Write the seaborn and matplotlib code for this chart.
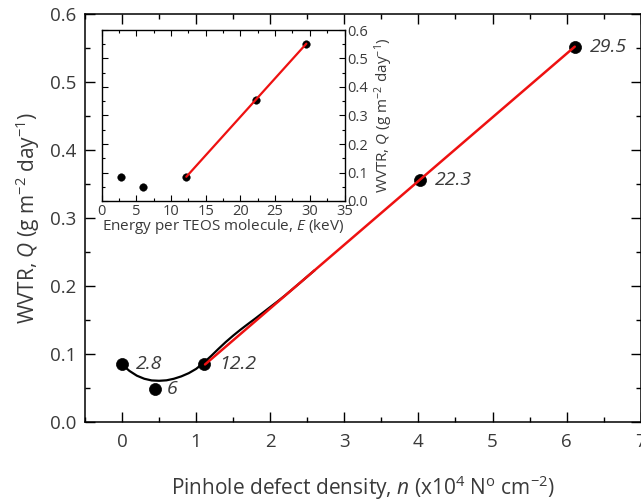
import matplotlib
matplotlib.use("Agg")
import matplotlib.pyplot as plt
import seaborn as sns
import pandas as pd
from matplotlib.ticker import MultipleLocator

sns.set_theme(style="white")
plt.rcParams['font.family'] = ['Open Sans', 'DejaVu Sans']
plt.rcParams['mathtext.fontset'] = 'custom'
plt.rcParams['mathtext.rm'] = 'Open Sans'
plt.rcParams['mathtext.it'] = 'Open Sans:italic'
plt.rcParams['mathtext.bf'] = 'Open Sans:bold'

# ---- data ----
defect_density = [0.0, 0.44, 1.11, 4.02, 6.11]          # n (x10^4 N/cm^2)
wvtr = [0.085, 0.049, 0.085, 0.356, 0.552]               # Q (g m^-2 day^-1)
energy = [2.8, 6.0, 12.2, 22.3, 29.5]                    # E (keV)
point_labels = ["2.8", "6", "12.2", "22.3", "29.5"]

# smooth guide curve (black)
curve_n = [0.0, 0.1, 0.2, 0.3, 0.4, 0.5, 0.6, 0.7, 0.8, 0.9, 1.0, 1.1, 1.2, 1.3,
           1.4, 1.5, 1.6, 1.7, 1.8, 1.9, 2.0, 2.1, 2.2, 2.4, 2.6]
curve_q = [0.085, 0.0755, 0.0685, 0.064, 0.0615, 0.061, 0.0617, 0.064, 0.0675, 0.0722,
           0.0785, 0.0873, 0.0972, 0.1078, 0.1180, 0.1274, 0.1362, 0.1445, 0.1526,
           0.1610, 0.1694, 0.1777, 0.1864, 0.2048, 0.2235]

# linear fit (red) endpoints
fit_n = [1.12, 6.11]
fit_q = [0.085, 0.552]
fit_e = [12.2, 29.5]

df = pd.DataFrame({"n": defect_density, "Q": wvtr, "E": energy, "lab": point_labels})
curve_df = pd.DataFrame({"n": curve_n, "Q": curve_q})
fit_df = pd.DataFrame({"n": fit_n, "Q": fit_q, "E": fit_e})

TXT = "#3a3a3a"

fig = plt.figure(figsize=(6.41, 5.04), dpi=100)
ax = fig.add_axes([85 / 641, 1 - 422.3 / 504, (640.7 - 85) / 641, (422.3 - 14) / 504])

sns.lineplot(data=curve_df, x="n", y="Q", ax=ax, color="black", lw=1.6,
             sort=False, estimator=None, zorder=2)
sns.scatterplot(data=df, x="n", y="Q", ax=ax, color="black", s=75,
                edgecolor="black", linewidth=0.5, zorder=3)
sns.lineplot(data=fit_df, x="n", y="Q", ax=ax, color="#ee1111", lw=1.8,
             sort=False, estimator=None, zorder=4)

offsets = [(0.19, 0.0), (0.17, 0.0), (0.2, 0.0), (0.2, 0.0), (0.2, 0.0)]
for (xv, yv, lab), (dx, dy) in zip(zip(defect_density, wvtr, point_labels), offsets):
    ax.text(xv + dx, yv + dy, lab, fontsize=14, style="italic", color=TXT,
            va="center", ha="left")

ax.set_xlim(-0.5, 7)
ax.set_ylim(0, 0.6)
ax.xaxis.set_major_locator(MultipleLocator(1))
ax.xaxis.set_minor_locator(MultipleLocator(0.5))
ax.yaxis.set_major_locator(MultipleLocator(0.1))
ax.yaxis.set_minor_locator(MultipleLocator(0.05))
ax.yaxis.set_major_formatter(plt.FormatStrFormatter("%.1f"))
ax.tick_params(which="both", direction="in", top=True, right=True, bottom=True, left=True,
               color="black", width=1.0, labelcolor=TXT)
ax.tick_params(which="major", length=7, labelsize=13.5)
ax.tick_params(which="minor", length=3.5)
ax.tick_params(axis="x", which="major", pad=8)
ax.tick_params(axis="y", which="major", pad=6)
for sp in ax.spines.values():
    sp.set_color("black")
    sp.set_linewidth(1.1)
    sp.set_visible(True)
ax.set_xlabel(r"Pinhole defect density, $\mathit{n}$ (x10$^{4}$ N$^{\mathrm{o}}$ cm$^{-2}$)",
              fontsize=15, color=TXT, labelpad=16)
ax.set_ylabel(r"WVTR, $\mathit{Q}$ (g m$^{-2}$ day$^{-1}$)", fontsize=15, color=TXT, labelpad=6)

# ---- inset ----
ax2 = fig.add_axes([101.7 / 641, 1 - 201 / 504, (344.5 - 101.7) / 641, (201 - 30) / 504])
sns.scatterplot(data=df, x="E", y="Q", ax=ax2, color="black", s=30,
                edgecolor="black", linewidth=0.3, zorder=3)
sns.lineplot(data=fit_df, x="E", y="Q", ax=ax2, color="#ee1111", lw=1.6,
             sort=False, estimator=None, zorder=4)
ax2.set_xlim(0, 35)
ax2.set_ylim(0, 0.6)
ax2.xaxis.set_major_locator(MultipleLocator(5))
ax2.xaxis.set_minor_locator(MultipleLocator(2.5))
ax2.yaxis.set_major_locator(MultipleLocator(0.1))
ax2.yaxis.set_minor_locator(MultipleLocator(0.05))
ax2.yaxis.set_major_formatter(plt.FormatStrFormatter("%.1f"))
ax2.yaxis.set_label_position("right")
ax2.tick_params(which="both", direction="in", top=True, right=True, bottom=True, left=True,
                labelleft=False, labelright=True, color="black", width=0.8, labelcolor=TXT)
ax2.tick_params(which="major", length=4, labelsize=10.5, pad=2)
ax2.tick_params(which="minor", length=2)
for sp in ax2.spines.values():
    sp.set_color("black")
    sp.set_linewidth(1.0)
    sp.set_visible(True)
ax2.set_xlabel(r"Energy per TEOS molecule, $\mathit{E}$ (keV)", fontsize=11, color=TXT, labelpad=-1)
ax2.set_ylabel(r"WVTR, $\mathit{Q}$ (g m$^{-2}$ day$^{-1}$)", fontsize=11, color=TXT, labelpad=3)
ax2.set_facecolor("white")

fig.savefig("out.png", dpi=100)
